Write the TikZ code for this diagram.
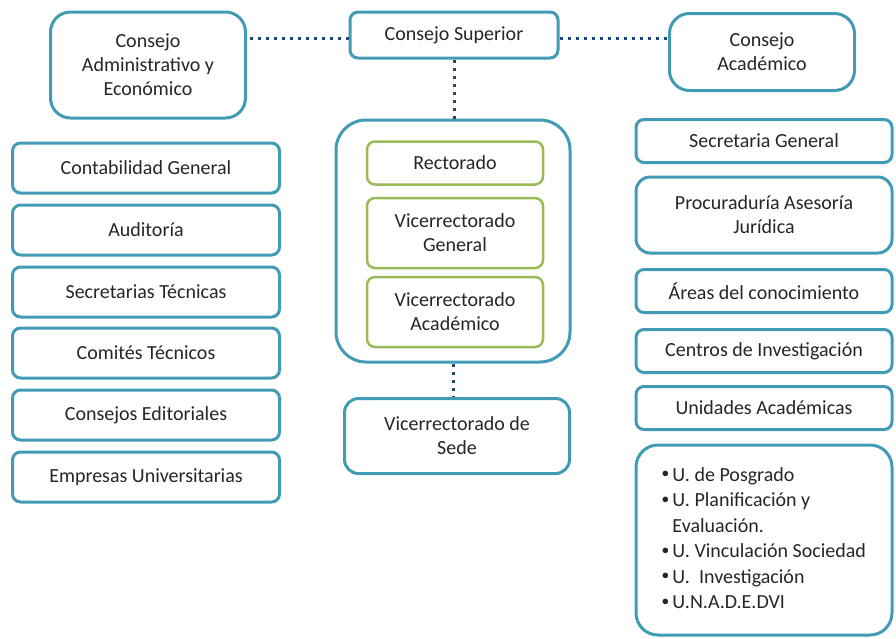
\documentclass[tikz,border=0pt]{standalone}
\usepackage{fontspec}
\setmainfont{Carlito}
\definecolor{boxteal}{RGB}{66,155,180}
\definecolor{boxgreen}{RGB}{155,187,89}
\definecolor{dotnavy}{RGB}{31,73,125}
\definecolor{textgrey}{RGB}{38,38,38}
\usetikzlibrary{calc}

\tikzset{
  orgbox/.style={draw=boxteal, line width=3pt, rounded corners=8pt, fill=white,
    align=center, text=textgrey, font=\fontsize{20}{24}\selectfont, inner sep=2pt},
  councilbox/.style={orgbox, rounded corners=20pt},
  innerbox/.style={orgbox, draw=boxgreen, line width=2.5pt},
  link/.style={draw=dotnavy, line width=3pt, dash pattern=on 3pt off 5pt}
}
\newcommand{\listdot}{\raisebox{0.18em}{\ensuremath{\scriptstyle\bullet}}}

\begin{document}
\begin{tikzpicture}[x=1pt,y=-1pt]
            \useasboundingbox (0,0) rectangle (896,638);
            % councils
            \node[councilbox, minimum width=195pt, minimum height=106pt] (cadm) at (148,65) {Consejo\\Administrativo y\\Económico};
            \node[orgbox, minimum width=208pt, minimum height=46pt] (csup) at (454,35) {Consejo Superior};
            \node[councilbox, minimum width=185pt, minimum height=77pt] (cacad) at (762,52) {Consejo\\Académico};

            % rectorate group
            \node[orgbox, rounded corners=30pt, minimum width=234pt, minimum height=242pt] (vgroup) at (453,241) {};
            \node[innerbox, minimum width=176pt, minimum height=43pt] (rect) at (455,163) {Rectorado};
            \node[innerbox, minimum width=176pt, minimum height=70pt] (vgen) at (455,233) {Vicerrectorado\\General};
            \node[innerbox, minimum width=176pt, minimum height=70pt] (vacad) at (455,312) {Vicerrectorado\\Académico};
            \node[orgbox, rounded corners=14pt, minimum width=225pt, minimum height=75pt] (vsede) at (457,436) {Vicerrectorado de\\Sede};

            % left column
            \node[orgbox, minimum width=267pt, minimum height=50pt] (conta) at (146,168) {Contabilidad General};
            \node[orgbox, minimum width=267pt, minimum height=50pt] (audit) at (146,230) {Auditoría};
            \node[orgbox, minimum width=267pt, minimum height=50pt] (sectec) at (146,292) {Secretarias Técnicas};
            \node[orgbox, minimum width=267pt, minimum height=50pt] (comtec) at (146,353) {Comités Técnicos};
            \node[orgbox, minimum width=267pt, minimum height=50pt] (consed) at (146,415) {Consejos Editoriales};
            \node[orgbox, minimum width=267pt, minimum height=50pt] (empuni) at (146,477) {Empresas Universitarias};

            % right column
            \node[orgbox, minimum width=256pt, minimum height=43pt] (secgen) at (764,141) {Secretaria General};
            \node[orgbox, rounded corners=14pt, minimum width=256pt, minimum height=76pt] (procu) at (764,215) {Procuraduría Asesoría\\Jurídica};
            \node[orgbox, minimum width=256pt, minimum height=43pt] (areas) at (764,291) {Áreas del conocimiento};
            \node[orgbox, minimum width=256pt, minimum height=43pt] (centros) at (764,351) {Centros de Investigación};
            \node[orgbox, minimum width=256pt, minimum height=43pt] (unid) at (764,408) {Unidades Académicas};
            \node[councilbox, rounded corners=22pt, minimum width=256pt, minimum height=190pt,
                  font=\fontsize{20}{25.5}\selectfont] (ulist) at (764,540) {%
              \begin{tabular}{@{}l@{\,}l@{}}
              \listdot & U. de Posgrado\\
              \listdot & U. Planificación y\\
               & Evaluación.\\
              \listdot & U. Vinculación Sociedad\\
              \listdot & U.\ \ Investigación\\
              \listdot & U.N.A.D.E.DVI
              \end{tabular}};

            % dotted links
            \draw[link] (csup.west |- 0,38) -- (cadm.east |- 0,38);
            \draw[link] (csup.east |- 0,38) -- (cacad.west |- 0,38);
            \draw[link] (csup.south) -- (vgroup.north -| csup.south);
            \draw[link] (vgroup.south) -- (vgroup.south |- vsede.north);
\end{tikzpicture}
\end{document}
